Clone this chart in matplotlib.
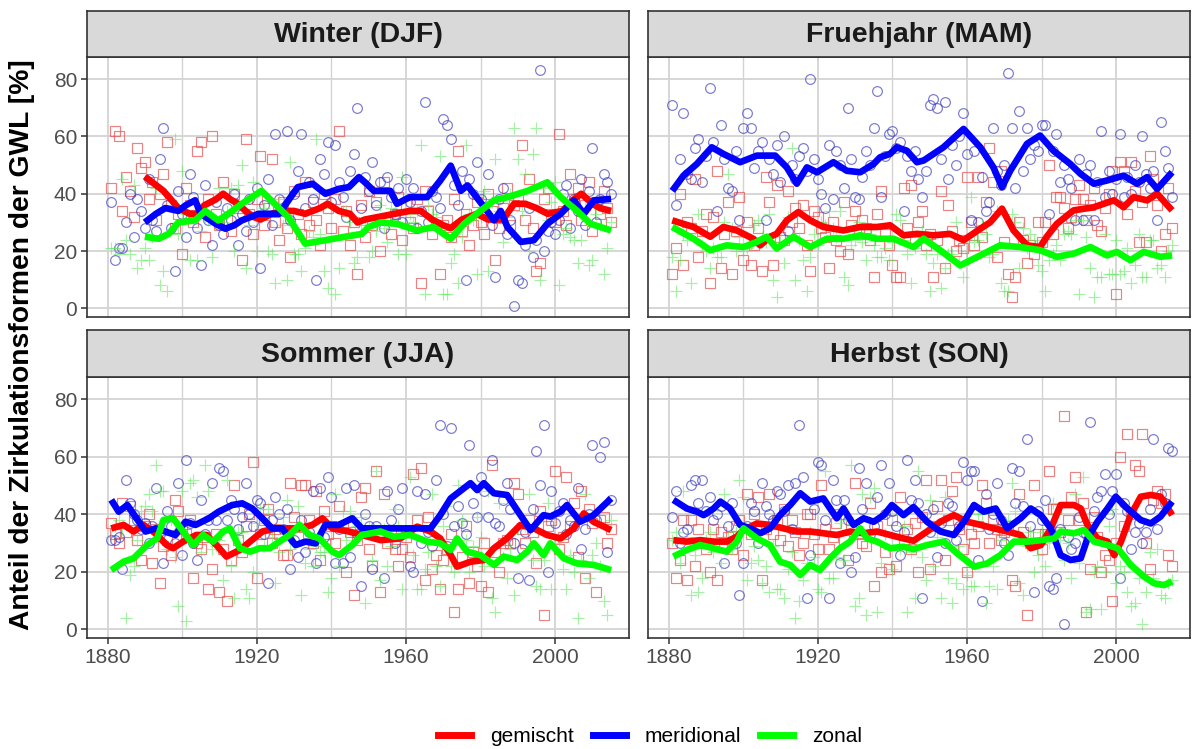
import numpy as np
import matplotlib.pyplot as plt
from matplotlib.lines import Line2D

plt.rcParams['font.family'] = ['Liberation Sans', 'DejaVu Sans']

years = np.arange(1881, 2016)
seasons = ["Winter (DJF)", "Fruehjahr (MAM)", "Sommer (JJA)", "Herbst (SON)"]
types = ["gemischt", "meridional", "zonal"]

# yearly shares [%] per season and circulation type (1881-2015)
djf_gem = [42, 62, 60, 34, 46, 41, 32, 56, 49, 51, 38, 44, 31, 40, 47, 58, 36, 28, 33, 19,
           42, 36, 30, 55, 58, 25, 38, 60, 33, 29, 44, 31, 27, 40, 35, 17, 59, 33, 26, 38,
           53, 29, 35, 52, 30, 24, 37, 28, 18, 41, 33, 26, 44, 29, 37, 31, 22, 40, 35, 28,
           38, 62, 27, 34, 22, 30, 12, 36, 25, 41, 29, 37, 20, 44, 31, 26, 33, 39, 24, 36,
           30, 28, 38, 9, 41, 34, 26, 29, 12, 29, 31, 25, 38, 55, 27, 33, 22, 29, 37, 30,
           26, 40, 34, 17, 28, 35, 42, 29, 36, 38, 57, 31, 45, 28, 13, 16, 38, 42, 33, 30,
           61, 34, 29, 47, 38, 42, 31, 36, 44, 27, 37, 33, 41, 35, 30]
djf_mer = [37, 17, 21, 21, 30, 40, 25, 38, 34, 28, 45, 31, 27, 52, 63, 36, 28, 13, 41, 33,
           25, 47, 39, 28, 15, 43, 31, 22, 37, 29, 26, 35, 31, 40, 22, 33, 27, 38, 30, 42,
           14, 36, 45, 29, 61, 38, 34, 62, 31, 40, 48, 61, 35, 44, 38, 10, 52, 47, 58, 37,
           57, 44, 39, 32, 48, 54, 70, 35, 46, 41, 51, 36, 44, 28, 46, 39, 33, 42, 30, 45,
           37, 42, 28, 34, 72, 30, 41, 39, 35, 66, 64, 59, 43, 36, 48, 10, 45, 40, 51, 38,
           33, 47, 29, 11, 38, 42, 26, 31, 1, 10, 9, 22, 35, 18, 24, 83, 20, 27, 30, 26,
           31, 40, 43, 28, 38, 34, 45, 29, 41, 56, 30, 38, 47, 44, 40]
djf_zon = [21, 21, 19, 45, 24, 19, 43, 14, 17, 21, 17, 25, 42, 8, 13, 6, 36, 59, 26, 48,
           33, 17, 31, 17, 27, 32, 31, 18, 30, 42, 30, 34, 42, 20, 43, 50, 14, 29, 44, 20,
           33, 35, 20, 19, 9, 38, 29, 10, 51, 19, 19, 13, 21, 27, 25, 59, 26, 13, 7, 35,
           5, 14, 34, 34, 30, 16, 18, 29, 29, 18, 20, 27, 36, 28, 23, 35, 34, 19, 46, 19,
           33, 30, 34, 57, 5, 36, 33, 32, 53, 5, 5, 16, 19, 9, 25, 57, 33, 31, 12, 32,
           41, 13, 37, 52, 34, 23, 32, 40, 63, 52, 34, 47, 20, 54, 63, 10, 42, 31, 37, 44,
           8, 26, 28, 25, 24, 16, 24, 35, 15, 17, 33, 29, 12, 21, 30]

mam_gem = [12, 21, 40, 15, 30, 28, 45, 18, 27, 33, 9, 32, 48, 14, 26, 37, 12, 27, 39, 17,
           30, 15, 22, 28, 13, 46, 37, 15, 43, 25, 24, 41, 30, 35, 28, 36, 22, 13, 34, 32,
           28, 25, 14, 30, 24, 20, 37, 19, 29, 34, 26, 31, 28, 24, 11, 33, 41, 26, 22, 15,
           11, 11, 42, 28, 43, 24, 30, 34, 22, 26, 11, 24, 41, 14, 36, 27, 20, 24, 21, 46,
           30, 22, 46, 25, 37, 56, 44, 18, 48, 23, 12, 4, 11, 30, 24, 16, 22, 19, 30, 23,
           30, 50, 26, 39, 39, 35, 28, 32, 38, 43, 38, 31, 36, 42, 29, 27, 35, 40, 48, 5,
           51, 48, 33, 51, 41, 23, 37, 23, 53, 45, 36, 20, 26, 42, 28]
mam_mer = [71, 36, 52, 68, 47, 45, 56, 59, 44, 53, 77, 58, 34, 64, 52, 42, 41, 55, 31, 63,
           68, 63, 49, 55, 58, 31, 52, 47, 57, 44, 60, 27, 50, 45, 53, 56, 48, 80, 52, 45,
           40, 35, 57, 38, 55, 50, 42, 70, 52, 39, 38, 46, 55, 50, 63, 76, 39, 53, 61, 62,
           56, 58, 34, 53, 48, 55, 45, 39, 48, 71, 73, 70, 52, 72, 45, 57, 50, 60, 68, 54,
           31, 55, 30, 46, 34, 37, 63, 48, 43, 50, 82, 63, 42, 69, 48, 63, 52, 57, 55, 64,
           64, 33, 55, 61, 44, 50, 45, 42, 31, 52, 31, 47, 50, 31, 44, 62, 39, 48, 40, 45,
           61, 39, 46, 40, 50, 44, 60, 47, 42, 48, 31, 65, 55, 49, 39]
mam_zon = [18, 6, 17, 26, 24, 9, 28, 33, 22, 20, 14, 21, 18, 18, 30, 47, 28, 20, 25, 20,
           21, 22, 29, 31, 25, 23, 33, 10, 4, 23, 16, 32, 56, 10, 24, 17, 6, 18, 26, 22,
           30, 29, 34, 28, 25, 34, 11, 8, 22, 24, 30, 23, 17, 26, 22, 18, 18, 21, 17, 23,
           33, 31, 24, 19, 9, 21, 25, 27, 19, 6, 16, 19, 7, 14, 19, 19, 30, 16, 11, 20,
           39, 23, 24, 29, 26, 18, 19, 34, 9, 6, 6, 33, 30, 14, 28, 21, 26, 24, 15, 13,
           6, 17, 19, 22, 17, 26, 27, 26, 31, 5, 31, 25, 14, 4, 11, 11, 26, 12, 12, 24,
           12, 13, 21, 9, 15, 26, 11, 11, 24, 24, 14, 15, 11, 20, 22]

jja_gem = [37, 33, 30, 44, 34, 43, 38, 31, 24, 36, 40, 23, 35, 16, 29, 31, 26, 45, 41, 35,
           33, 38, 18, 30, 28, 32, 14, 21, 33, 13, 28, 10, 24, 50, 31, 27, 36, 40, 58, 18,
           33, 38, 42, 30, 35, 33, 26, 26, 51, 39, 32, 50, 50, 38, 30, 48, 24, 41, 33, 36,
           30, 43, 36, 20, 34, 12, 31, 46, 49, 28, 22, 55, 13, 47, 30, 33, 28, 22, 28, 32,
           25, 54, 38, 56, 17, 39, 21, 26, 14, 24, 28, 33, 6, 14, 25, 36, 16, 27, 22, 15,
           30, 13, 57, 27, 20, 30, 31, 30, 51, 47, 35, 30, 38, 34, 23, 41, 5, 36, 38, 55,
           28, 32, 53, 36, 44, 25, 48, 18, 42, 37, 13, 38, 39, 30, 35]
jja_mer = [31, 31, 32, 21, 52, 44, 40, 38, 35, 37, 30, 36, 49, 33, 23, 41, 36, 30, 51, 26,
           59, 37, 30, 24, 45, 33, 38, 51, 38, 56, 55, 38, 45, 42, 35, 39, 51, 40, 36, 45,
           44, 33, 16, 38, 46, 40, 35, 42, 21, 31, 25, 38, 27, 34, 48, 23, 49, 32, 53, 46,
           23, 35, 23, 49, 25, 50, 33, 15, 40, 36, 21, 36, 33, 18, 48, 38, 30, 42, 49, 34,
           22, 20, 48, 30, 47, 34, 29, 52, 71, 40, 29, 70, 36, 43, 37, 33, 64, 44, 39, 53,
           48, 39, 59, 37, 36, 45, 51, 42, 30, 18, 28, 34, 17, 42, 62, 50, 71, 20, 48, 37,
           41, 44, 33, 38, 36, 49, 28, 35, 40, 64, 38, 60, 65, 27, 45]
jja_zon = [32, 36, 38, 35, 4, 19, 22, 31, 41, 43, 47, 41, 57, 48, 48, 28, 38, 25, 8, 48,
           3, 51, 52, 46, 27, 57, 48, 28, 29, 31, 17, 52, 22, 11, 34, 34, 14, 11, 20, 37,
           42, 29, 42, 32, 16, 27, 39, 45, 28, 30, 43, 12, 23, 28, 22, 29, 27, 27, 13, 18,
           47, 22, 41, 31, 41, 38, 36, 39, 9, 36, 24, 55, 17, 35, 22, 29, 42, 36, 14, 34,
           53, 26, 14, 14, 21, 27, 47, 22, 15, 36, 43, 22, 20, 50, 38, 31, 20, 29, 39, 32,
           22, 48, 11, 6, 44, 25, 18, 28, 12, 35, 37, 36, 47, 24, 15, 14, 24, 44, 14, 30,
           31, 21, 14, 26, 20, 4, 24, 47, 18, 26, 30, 22, 10, 5, 38]

son_gem = [30, 18, 24, 38, 17, 38, 22, 35, 30, 28, 20, 35, 17, 34, 30, 32, 28, 36, 38, 26,
           47, 33, 40, 46, 17, 35, 47, 33, 38, 31, 42, 29, 38, 34, 26, 30, 40, 40, 33, 28,
           50, 35, 28, 32, 37, 40, 31, 24, 36, 51, 33, 30, 29, 44, 15, 36, 20, 27, 21, 38,
           22, 46, 30, 35, 28, 37, 20, 39, 52, 21, 36, 43, 52, 24, 38, 48, 53, 35, 28, 20,
           33, 30, 36, 50, 44, 30, 38, 35, 31, 34, 36, 17, 15, 47, 34, 5, 30, 50, 33, 28,
           33, 55, 42, 42, 34, 74, 38, 46, 53, 38, 44, 6, 21, 39, 32, 20, 26, 24, 10, 30,
           60, 36, 68, 40, 57, 55, 68, 30, 21, 45, 48, 44, 47, 26, 22]
son_mer = [39, 48, 30, 34, 35, 50, 52, 44, 52, 41, 46, 38, 40, 43, 23, 36, 44, 30, 12, 23,
           36, 44, 41, 30, 51, 43, 40, 38, 48, 47, 41, 50, 35, 51, 71, 53, 11, 26, 42, 58,
           57, 38, 11, 52, 45, 23, 45, 38, 20, 25, 56, 42, 51, 33, 36, 46, 57, 40, 51, 41,
           36, 26, 34, 59, 45, 52, 44, 11, 40, 34, 42, 25, 37, 30, 44, 43, 31, 36, 58, 52,
           55, 55, 24, 10, 47, 35, 40, 51, 38, 30, 26, 56, 44, 55, 43, 66, 36, 13, 41, 38,
           45, 15, 14, 18, 35, 2, 32, 28, 30, 39, 34, 33, 72, 41, 46, 48, 54, 40, 48, 54,
           18, 44, 41, 28, 34, 37, 30, 34, 42, 66, 35, 47, 44, 63, 62]
son_zon = [31, 34, 23, 48, 32, 12, 26, 13, 18, 31, 34, 27, 43, 23, 47, 32, 28, 34, 52, 46,
           17, 23, 29, 24, 16, 22, 13, 29, 14, 14, 11, 21, 27, 4, 10, 17, 23, 34, 25, 14,
           13, 55, 18, 18, 25, 37, 24, 38, 57, 8, 11, 47, 5, 46, 49, 6, 23, 33, 28, 21,
           42, 28, 36, 6, 27, 11, 55, 25, 17, 45, 22, 32, 11, 46, 18, 9, 16, 29, 14, 19,
           15, 15, 40, 40, 9, 15, 22, 14, 31, 36, 38, 51, 41, 16, 12, 29, 34, 20, 26, 34,
           22, 30, 44, 40, 31, 24, 30, 18, 47, 23, 53, 6, 7, 20, 22, 7, 20, 36, 42, 16,
           22, 20, 13, 8, 9, 18, 2, 13, 27, 18, 28, 12, 11, 16, 17]

# running means (year, %)
djf_gem_line = [(1890, 46), (1893, 43), (1895, 41), (1897, 38), (1899, 35), (1902, 33), (1904, 33),
                (1906, 36), (1909, 38), (1911, 40), (1913, 38), (1915, 36.5), (1917, 34), (1919, 32),
                (1921, 31), (1924, 33), (1927, 34), (1930, 34), (1933, 33), (1937, 35), (1939, 36.5),
                (1942, 34), (1945, 33), (1947, 30), (1949, 31), (1953, 32), (1957, 33), (1961, 34),
                (1964, 34), (1967, 31), (1970, 29), (1972, 28), (1975, 31), (1979, 33), (1982, 31),
                (1986, 31), (1989, 36.5), (1992, 36.5), (1995, 35), (1998, 33), (2002, 34), (2005, 38),
                (2007, 40), (2010, 36.5), (2012, 35), (2015, 34)]
djf_mer_line = [(1890, 30), (1893, 33), (1895.5, 35), (1899, 34), (1901, 36), (1903.5, 37.7), (1905, 33),
                (1909, 29.5), (1911.6, 27.8), (1914, 29), (1916, 30.7), (1920.5, 33), (1926, 33),
                (1928.5, 37.7), (1931, 42.3), (1935, 43.5), (1938.4, 40), (1942, 41.7), (1944.7, 42.3),
                (1947.4, 45.8), (1949, 44), (1951.4, 41), (1955.8, 41), (1957.6, 36.5), (1961, 38.8),
                (1965.7, 38.8), (1969.2, 44.6), (1972, 49.8), (1974.7, 41), (1976.5, 42.9), (1981, 35.3),
                (1983.6, 30.7), (1985.4, 34), (1987.2, 28.4), (1990.8, 23.2), (1994.3, 23.8),
                (1997.9, 29.5), (2001.5, 33), (2005, 37.7), (2007.7, 33), (2010.4, 37.7), (2015, 38.2)]
djf_zon_line = [(1890, 25), (1893.7, 24.3), (1896.4, 26), (1899, 30), (1903.5, 30.7), (1906.2, 34),
                (1909.7, 30.7), (1912.4, 33), (1916, 36.5), (1921.3, 41), (1924.8, 36.5), (1928.5, 31.8),
                (1933, 22.6), (1938.4, 23.8), (1943.7, 25), (1948.2, 26), (1950, 28.4), (1953.2, 30),
                (1957.6, 29.5), (1963, 27.2), (1967.4, 28.4), (1972, 24.3), (1975.6, 29.5), (1979, 33),
                (1983.6, 37.7), (1987.2, 38.8), (1992.6, 41), (1997.9, 44), (2001.5, 38.8), (2005.9, 34),
                (2009.5, 29.5), (2015, 27.2)]

mam_gem_line = [(1881, 30.7), (1886.7, 28.4), (1891.2, 25), (1894.7, 28.4), (1898.3, 27.2), (1902.7, 24.3),
                (1904.6, 22), (1907.2, 25), (1909, 26), (1911.7, 30.7), (1914.8, 33.6), (1918, 30.7),
                (1921.5, 28.4), (1926.9, 27.2), (1931.4, 28.4), (1935.9, 28.4), (1939.4, 29), (1943, 25.5),
                (1946.6, 26), (1951, 25.5), (1955.5, 26), (1959.1, 23.8), (1963.6, 27.8), (1966.2, 30),
                (1969.4, 34.8), (1972.5, 27.2), (1976.1, 22), (1979.6, 21.4), (1981.4, 25), (1984.1, 29.5),
                (1988.6, 34.2), (1994, 35.3), (1999.4, 37.7), (2002, 35.3), (2004.7, 38.8), (2008.3, 37.7),
                (2011, 40), (2015, 34.2)]
mam_mer_line = [(1881, 41), (1884, 46.3), (1887.6, 50.4), (1891.6, 56.2), (1894.7, 53.9), (1899.2, 51),
                (1903.7, 53.3), (1908.6, 53.3), (1911.7, 49.2), (1914.4, 43.5), (1917.1, 49.2),
                (1919.8, 47.5), (1924.2, 51), (1927.8, 48), (1931.4, 47.5), (1935, 50.4), (1936.7, 52.7),
                (1939.4, 53.9), (1941.2, 56.2), (1943.9, 55), (1946.6, 51), (1948.4, 51.6), (1953.7, 56.2),
                (1959.1, 62.6), (1963.6, 56.2), (1967.1, 49.2), (1969.4, 42.3), (1971.6, 48), (1976.1, 57.4),
                (1979.6, 60.3), (1983.2, 55), (1987.7, 50.4), (1990.4, 47), (1994, 43.5), (1997.5, 44.6),
                (2002, 46.3), (2005.6, 43.5), (2008.3, 45.8), (2011, 41.7), (2015, 47.5)]
mam_zon_line = [(1881, 28.4), (1886.7, 24.3), (1891.2, 20.3), (1895.6, 22), (1900.1, 21.4), (1903.7, 23.2),
                (1906.3, 25), (1909, 20.9), (1913.5, 25), (1918, 21.4), (1922.4, 24.3), (1926.9, 24.3),
                (1931.4, 25.5), (1935.9, 24.3), (1940.3, 24.3), (1945.7, 21.4), (1948.4, 24.3), (1952.8, 20.3),
                (1958.2, 15), (1963.6, 18.5), (1968.9, 22), (1974.3, 21.4), (1979.6, 20.3), (1984.1, 18),
                (1988.6, 19.1), (1993.1, 21.4), (1997.5, 18.5), (2000.2, 19.7), (2003.8, 16.8),
                (2007.4, 19.7), (2011.9, 18), (2015, 18.5)]

jja_gem_line = [(1881, 35.1), (1884.3, 36.3), (1887, 34), (1889.6, 36.3), (1892.3, 34), (1895.9, 29.3),
                (1897.6, 28.2), (1900.3, 30.5), (1903.8, 32.8), (1906.5, 32.8), (1909.2, 29.3), (1911.9, 25.3),
                (1915.5, 27.6), (1918.2, 30.5), (1921.5, 34), (1925.1, 35.1), (1931.4, 35.1), (1934.9, 36.3),
                (1937.6, 38.6), (1940.3, 35.1), (1944.7, 34), (1948.2, 32.8), (1953.2, 31), (1958.5, 31.6),
                (1963, 35.7), (1966.6, 34), (1969.2, 31.6), (1972, 25.8), (1973.7, 21.8), (1977.3, 23.5),
                (1980.9, 24.1), (1983.6, 28.2), (1987.1, 31.6), (1990.7, 36.3), (1994.3, 35.1), (1997.8, 32.8),
                (2001.4, 31.6), (2005, 35.1), (2007.7, 40.3), (2010.3, 37.4), (2015, 34.5)]
jja_mer_line = [(1881, 45), (1883, 40.9), (1885.3, 43.2), (1888.4, 37.4), (1890.2, 34), (1892.9, 35.1),
                (1895.5, 34), (1898.2, 32.8), (1900.9, 37.4), (1903.6, 36.3), (1907.2, 38.6), (1909.8, 40.9),
                (1913.4, 43.2), (1916.1, 43.8), (1918.8, 42), (1921.5, 38.6), (1924.1, 35.1), (1926.8, 35.1),
                (1930.4, 29.3), (1933.1, 30.5), (1935.8, 29.9), (1938.4, 36.3), (1942, 36.3), (1945.6, 38.6),
                (1948.2, 35.1), (1953.2, 35.1), (1957.6, 35.1), (1962.1, 35.1), (1966.6, 35.1), (1969.2, 39.7),
                (1972, 45.5), (1977.3, 50.8), (1979.1, 48.4), (1980.9, 50.8), (1983.6, 47.3), (1987.1, 46.7),
                (1990.7, 39.7), (1993.4, 34.5), (1996.9, 39.7), (1998.7, 39.2), (2001.4, 40.9), (2003.2, 43.2),
                (2006.7, 37.4), (2010.3, 39.7), (2015, 45.5)]
jja_zon_line = [(1881, 20.6), (1884.3, 23.5), (1887, 24.7), (1890.6, 29.3), (1893.3, 31.6), (1895, 38),
                (1897.6, 38.6), (1900.3, 34), (1903, 29.3), (1905.6, 32.8), (1908.3, 30.5), (1911, 34),
                (1912.8, 35.1), (1915.5, 28.2), (1918.2, 27), (1920.8, 28.2), (1923.5, 28.2), (1926.1, 30.5),
                (1928.8, 32.8), (1931.5, 36.3), (1934.2, 32.8), (1936.8, 31.6), (1940.3, 27), (1942.1, 25.8),
                (1945.6, 29.3), (1948.2, 32.8), (1953.2, 34), (1956.8, 32.2), (1961.2, 32.8), (1965.7, 30.5),
                (1969.2, 29.9), (1972, 27.6), (1973.7, 31.6), (1976.4, 27), (1980, 25.8), (1983.6, 22.4),
                (1986.2, 25.3), (1989.8, 24.1), (1992.5, 27), (1994.3, 29.9), (1996.9, 25.8), (1998.7, 29.9),
                (2002.3, 24.7), (2005.9, 22.9), (2010.3, 22.4), (2015, 20.6)]

son_gem_line = [(1881.3, 31), (1884.9, 30.5), (1888.5, 31), (1892.1, 30.5), (1895.6, 30.5), (1898.3, 32.2),
                (1900.1, 34.5), (1903.7, 36.8), (1907.2, 36.3), (1910.8, 35.1), (1914.4, 34), (1918, 34),
                (1921.5, 33.4), (1925.1, 32.8), (1928.7, 34), (1932.3, 33.4), (1935.9, 34), (1939.4, 32.8),
                (1943, 31.6), (1945.7, 30.8), (1949.3, 34), (1952.9, 37.4), (1956.5, 39.7), (1960.1, 37.4),
                (1963.7, 36.3), (1967.2, 35.1), (1970.8, 34), (1974.4, 32.8), (1977.1, 28.2), (1979.8, 29.3),
                (1982.5, 35.1), (1985.1, 43.2), (1988.7, 43.2), (1990.5, 42), (1992.3, 36.3), (1995, 31.6),
                (1997.7, 30.5), (1999.5, 25.8), (2001.3, 30.5), (2003.9, 39.7), (2006.6, 46.1), (2009.3, 46.7),
                (2011.9, 46.1), (2012.8, 44.4), (2015, 39.7)]
son_mer_line = [(1881.3, 45), (1884.9, 42), (1887.6, 40.9), (1889.4, 39.7), (1892.1, 42), (1893.9, 44.4),
                (1896.5, 42), (1899.2, 36.3), (1901.9, 35.1), (1904.6, 33.4), (1907.2, 35.1), (1909.9, 39.7),
                (1912.6, 43.2), (1915.3, 47.3), (1918, 44.4), (1921.5, 45.5), (1925.1, 38.6), (1926.9, 42),
                (1929.6, 36.3), (1932.3, 38.6), (1935, 37.4), (1937.7, 39.7), (1939.9, 43.2), (1943, 39.7),
                (1945.7, 42.5), (1949.3, 37.4), (1952.9, 34), (1956.5, 32.8), (1959.2, 37.4), (1961.9, 43.2),
                (1964.5, 40.9), (1967.7, 42), (1970.8, 35.1), (1974.4, 38.6), (1977.1, 42), (1979.8, 39.7),
                (1982.5, 35.1), (1985.1, 25.8), (1987.8, 24.1), (1990.5, 24.7), (1992.3, 31.6), (1995, 37.4),
                (1997.7, 42), (1999.9, 46.1), (2003, 42), (2006.6, 38), (2009.3, 36.8), (2011.9, 39.2),
                (2015, 44.4)]
son_zon_line = [(1881.3, 25.3), (1884.9, 27.6), (1888.5, 29.3), (1892.1, 28.2), (1895.6, 27), (1898.3, 30.5),
                (1900.1, 35.1), (1903.7, 31.6), (1907.2, 29.3), (1909.9, 23.5), (1912.6, 22.4), (1915.3, 18.9),
                (1918, 22.4), (1920.6, 20.6), (1923.3, 24.7), (1926, 28.2), (1928.7, 30.5), (1931.4, 35.1),
                (1933.2, 31.6), (1935.9, 30.5), (1939.4, 28.2), (1943, 28.7), (1945.7, 27.9), (1949.3, 29.3),
                (1953.8, 30.5), (1957.4, 26.4), (1961.9, 21.8), (1965.4, 22.9), (1969, 25.8), (1972.6, 30.5),
                (1976.1, 30.5), (1979.8, 31), (1983.4, 31.6), (1985.1, 34), (1988.7, 33.4), (1991.4, 34.5),
                (1994.1, 30.5), (1997.7, 29.3), (2000.4, 28.2), (2003.9, 22.4), (2007.5, 18.3), (2010.2, 16),
                (2012.8, 15.4), (2015, 16.6)]

points = {
    seasons[0]: [djf_gem, djf_mer, djf_zon],
    seasons[1]: [mam_gem, mam_mer, mam_zon],
    seasons[2]: [jja_gem, jja_mer, jja_zon],
    seasons[3]: [son_gem, son_mer, son_zon],
}
lines = {
    seasons[0]: [djf_gem_line, djf_mer_line, djf_zon_line],
    seasons[1]: [mam_gem_line, mam_mer_line, mam_zon_line],
    seasons[2]: [jja_gem_line, jja_mer_line, jja_zon_line],
    seasons[3]: [son_gem_line, son_mer_line, son_zon_line],
}

line_colors = ["#ff0000", "#0000ff", "#00ff00"]
pt_colors = [(0.9, 0.3, 0.3, 0.7), (0.25, 0.25, 0.75, 0.7), (0.35, 0.9, 0.35, 0.55)]
markers = ["s", "o", "+"]
msizes = [6.5, 7, 9]

W, H = 1192, 749
fig = plt.figure(figsize=(W / 100, H / 100), dpi=100)

cols_x = [87, 648]
panel_w = 542
rows = [(57, 317, 11), (377, 638, 330)]  # panel top, panel bottom, strip top

for i, season in enumerate(seasons):
    r, c = divmod(i, 2)
    top, bottom, strip_top = rows[r]
    x0 = cols_x[c]
    ax = fig.add_axes([x0 / W, 1 - bottom / H, panel_w / W, (bottom - top) / H])
    sax = fig.add_axes([x0 / W, 1 - top / H, panel_w / W, (top - strip_top) / H])

    for k in range(3):
        ax.plot(years, points[season][k], linestyle="none", marker=markers[k],
                markersize=msizes[k], markerfacecolor="none",
                markeredgecolor=pt_colors[k], markeredgewidth=0.85, zorder=2)
    for k in range(3):
        lx, ly = zip(*lines[season][k])
        ax.plot(lx, ly, color=line_colors[k], linewidth=4.8,
                solid_joinstyle="round", solid_capstyle="butt", zorder=3)

    ax.set_xlim(1874.5, 2019.8)
    ax.set_ylim(-3, 87.7)
    ax.set_xticks([1880, 1920, 1960, 2000])
    ax.set_xticks([1900, 1940, 1980], minor=True)
    ax.set_yticks([0, 20, 40, 60, 80])
    ax.grid(which="major", color="#d3d3d3", linewidth=1.3)
    ax.grid(which="minor", axis="x", color="#d3d3d3", linewidth=1.0)
    ax.set_axisbelow(True)
    for sp in ax.spines.values():
        sp.set_color("#333333")
        sp.set_linewidth(1.2)
    ax.tick_params(which="minor", length=0)
    ax.tick_params(which="major", length=4, width=1.1, color="#333333",
                   labelsize=15, labelcolor="#4d4d4d", pad=3)
    if c == 1:
        ax.tick_params(axis="y", left=False, labelleft=False)
    if r == 0:
        ax.tick_params(axis="x", bottom=False, labelbottom=False)

    sax.set_facecolor("#d9d9d9")
    sax.set_xticks([])
    sax.set_yticks([])
    for sp in sax.spines.values():
        sp.set_color("#333333")
        sp.set_linewidth(1.2)
    sax.text(0.5, 0.47, season, ha="center", va="center", fontsize=20.5,
             fontweight="bold", color="#1a1a1a", transform=sax.transAxes)

fig.text(22 / W, 1 - 345 / H, "Anteil der Zirkulationsformen der GWL [%]",
         rotation=90, ha="center", va="center", fontsize=20.3, fontweight="bold")

handles = [Line2D([], [], color=line_colors[k], linewidth=5) for k in range(3)]
fig.legend(handles, types, loc="center", bbox_to_anchor=(650 / W, 1 - 737 / H),
           ncol=3, frameon=False, fontsize=15, handlelength=1.6,
           handletextpad=0.9, columnspacing=0.9)

fig.savefig("out.png", dpi=100)
